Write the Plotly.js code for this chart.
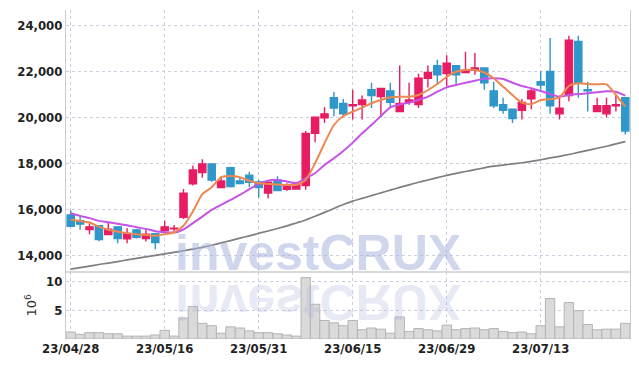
<!DOCTYPE html>
<html>
<head>
<meta charset="utf-8">
<script src="https://cdn.plot.ly/plotly-3.0.1.min.js"></script>
<style>html,body{margin:0;padding:0;background:#fff;}#chart{width:639px;height:366px;}</style>
</head>
<body>
<div id="chart"></div>
<script>
const dates = ['23/04/28','23/05/02','23/05/03','23/05/04','23/05/08','23/05/09','23/05/10','23/05/11','23/05/12','23/05/15',
'23/05/16','23/05/17','23/05/18','23/05/19','23/05/22','23/05/23','23/05/24','23/05/25','23/05/26','23/05/30',
'23/05/31','23/06/01','23/06/02','23/06/05','23/06/07','23/06/08','23/06/09','23/06/12','23/06/13','23/06/14',
'23/06/15','23/06/16','23/06/19','23/06/20','23/06/21','23/06/22','23/06/23','23/06/26','23/06/27','23/06/28',
'23/06/29','23/06/30','23/07/03','23/07/04','23/07/05','23/07/06','23/07/07','23/07/10','23/07/11','23/07/12',
'23/07/13','23/07/14','23/07/17','23/07/18','23/07/19','23/07/20','23/07/21','23/07/24','23/07/25','23/07/26'];

const openP = [15750,15500,15110,15280,14900,15230,14710,15100,14720,14930,
15070,15150,15650,17100,17590,17970,16940,17800,17230,17480,
17180,16700,17270,16870,16880,17030,19300,19980,20850,20600,
20500,20550,21200,20900,21150,20250,20650,20550,21700,22250,
21900,22250,21950,22050,22150,21150,20550,20350,20300,20800,
21550,22000,20150,20950,23300,21200,20250,20150,20500,20850];
const highP = [15950,15700,15390,15280,15420,15250,15170,15140,15130,14950,
15500,15310,16880,17900,18170,17980,17370,17850,17390,17630,
17270,17200,17430,17130,17190,19400,20000,20450,21100,20800,
21200,20950,21500,21250,21500,22250,21500,21900,22250,22500,
22700,22250,22850,22800,22150,21550,20850,20350,20800,21250,
22000,23450,20950,23550,23550,21550,20850,20850,21000,20850];
const lowP = [15250,15100,14910,14600,14880,14520,14520,14720,14590,14260,
15030,15030,15570,17030,17370,17190,16910,16940,17090,16960,
16500,16460,16810,16800,16840,16840,18910,19750,20050,20050,
19900,19900,20400,20000,20450,20250,20550,20400,21300,21400,
21350,21450,21950,21850,21200,20400,20150,19750,19900,20350,
21200,20150,19900,20700,20850,20250,20250,20000,20250,19250];
const closeP = [15250,15350,15230,14680,15130,14720,14940,14780,14910,14550,
15230,15170,16700,17710,17970,17270,17230,16980,17110,17170,
16940,17170,16810,17040,17100,19300,20000,20150,20400,20150,
20550,20750,20950,21250,20650,20600,20750,21700,21950,21850,
22350,21850,22050,22150,21500,20500,20300,19950,20650,21150,
21400,20500,20400,23350,21500,21150,20500,20500,20550,19400];

const maOrange = [15535,15490,15417,15243,15100,15026,14957,14913,14883,14840,
14913,14983,15280,15896,16652,16957,17391,17448,17391,17230,
17130,17100,17070,17057,17057,17274,18000,18870,19665,20057,
20243,20417,20609,20752,20870,20896,20896,20970,21187,21448,
21765,21983,22057,22057,21950,21696,21330,20970,20635,20565,
20752,20783,20870,21361,21478,21448,21435,21435,20970,20461];
const maPurple = [15826,15709,15609,15490,15435,15361,15304,15217,15143,15043,
15000,14983,15115,15391,15678,15970,16187,16404,16622,16870,
17100,17243,17274,17200,17130,17348,17565,17926,18217,18535,
18896,19304,19665,20057,20435,20560,20635,20752,20896,21113,
21304,21404,21504,21591,21680,21696,21665,21504,21361,21261,
21143,21013,20896,20970,21013,21043,21087,21130,21113,20939];
const maGray = [13390,13455,13520,13590,13655,13720,13790,13855,13920,13990,
14055,14120,14190,14260,14340,14430,14530,14630,14740,14840,
14950,15050,15160,15270,15400,15530,15690,15860,16030,16200,
16350,16470,16590,16710,16830,16950,17060,17170,17270,17370,
17470,17560,17640,17720,17800,17870,17920,17970,18020,18080,
18150,18230,18300,18380,18470,18560,18650,18740,18840,18940];

const volume = [1.2,0.8,1.1,1.1,0.9,0.9,0.5,0.5,0.5,0.7,
1.5,0.5,3.6,5.6,2.7,2.3,1.0,2.1,1.9,1.4,
1.1,1.1,0.9,0.7,0.5,10.6,6.0,3.2,2.8,2.3,
3.2,1.6,1.9,1.7,1.0,3.8,1.3,1.8,1.6,1.4,
2.4,1.6,1.8,1.9,1.6,1.8,1.3,1.1,1.2,0.9,
2.3,7.0,2.1,6.3,4.9,2.5,1.6,1.7,1.7,2.7];

const xTicks = [dates[0], dates[10], dates[20], dates[30], dates[40], dates[50]];
const priceTicks = [14000,16000,18000,20000,22000,24000];
const volTicks = [5,10];

const upColor = '#e81c62';
const downColor = '#2f97c9';
const tickFont = {family: '"DejaVu Sans Condensed", "Roboto Condensed", sans-serif', size: 13, color: '#222', weight: 'bold'};
const gridColor = '#cdcde0';

const traces = [
  {type:'scatter', mode:'lines', x:dates, y:maGray, line:{color:'#7f7f7f', width:1.7, shape:'spline', smoothing:0.6}, hoverinfo:'skip', xaxis:'x', yaxis:'y'},
  {type:'scatter', mode:'lines', x:dates, y:maPurple, line:{color:'#c653e6', width:2, shape:'spline', smoothing:0.6}, hoverinfo:'skip', xaxis:'x', yaxis:'y'},
  {type:'scatter', mode:'lines', x:dates, y:maOrange, line:{color:'#ee8850', width:2, shape:'spline', smoothing:0.6}, hoverinfo:'skip', xaxis:'x', yaxis:'y'},
  {type:'candlestick', x:dates, open:openP, high:highP, low:lowP, close:closeP,
   increasing:{line:{color:upColor, width:1.4}, fillcolor:upColor},
   decreasing:{line:{color:downColor, width:1.4}, fillcolor:downColor},
   whiskerwidth:0, xaxis:'x', yaxis:'y'},
  {type:'bar', x:dates, y:volume, marker:{color:'#dadada', line:{color:'#b4b4b4', width:1}}, xaxis:'x', yaxis:'y2'}
];

const volTop = 0.204;
const wmText = 'investCRUX';
const wmFont = {family:'"Liberation Sans", Arial, sans-serif', size:50, color:'rgba(170,180,218,0.55)', weight:'bold'};

const layout = {
  width:639, height:366,
  margin:{l:66, r:9, t:10, b:27},
  paper_bgcolor:'#fff', plot_bgcolor:'#fff',
  showlegend:false,
  bargap:0.0,
  boxgap:0.2, boxgroupgap:0.05,
  xaxis:{type:'category', range:[-0.5,59.5], anchor:'y2', tickmode:'array', tickvals:xTicks, ticktext:xTicks,
         tickfont:tickFont, showgrid:true, gridcolor:gridColor, griddash:'dot', gridwidth:1,
         rangeslider:{visible:false}, showline:false, zeroline:false, ticks:'', fixedrange:true},
  yaxis:{domain:[volTop,1], range:[13270,24670], tickvals:priceTicks, tickformat:',', tickfont:tickFont,
         showgrid:true, gridcolor:gridColor, griddash:'dot', showline:true, linecolor:'#cccccc', mirror:true,
         zeroline:false, ticks:'', anchor:'x'},
  yaxis2:{domain:[0,volTop], range:[0,11.6], tickvals:volTicks, tickfont:tickFont,
          showgrid:true, gridcolor:gridColor, griddash:'dot', showline:true, linecolor:'#cccccc', mirror:true,
          zeroline:false, ticks:'', anchor:'x',
          title:{text:'10<sup>6</sup>', font:{family:'"DejaVu Sans", sans-serif', size:13, color:'#333'}, standoff:6}},
  shapes:[{type:'line', xref:'paper', yref:'paper', x0:0, x1:1, y0:volTop, y1:volTop, line:{color:'#cccccc', width:1.5}}],
  annotations:[
    {text:wmText, xref:'paper', yref:'paper', x:0.446, y:0.262, xanchor:'center', yanchor:'middle', showarrow:false, font:wmFont},
    {text:wmText, xref:'paper', yref:'paper', x:0.446, y:0.262, xanchor:'center', yanchor:'middle', showarrow:false, font:{family:wmFont.family, size:50, color:'rgba(170,180,218,0.3)', weight:'bold'}}
  ]
};

Plotly.newPlot('chart', traces, layout, {displayModeBar:false, staticPlot:true}).then(function(gd){
  const anns = gd.querySelectorAll('.annotation');
  if (anns.length >= 2) {
    const t = anns[0].querySelector('text.annotation-text') || anns[0].querySelector('text');
    const r = t.getBoundingClientRect();
    const svgR = gd.getBoundingClientRect();
    const bottom = r.bottom - svgR.top;
    const m = bottom - 0.21 * 50 + 7;
    anns[1].setAttribute('transform', 'translate(0,' + (2 * m) + ') scale(1,-1)');
  }
});
</script>
</body>
</html>
